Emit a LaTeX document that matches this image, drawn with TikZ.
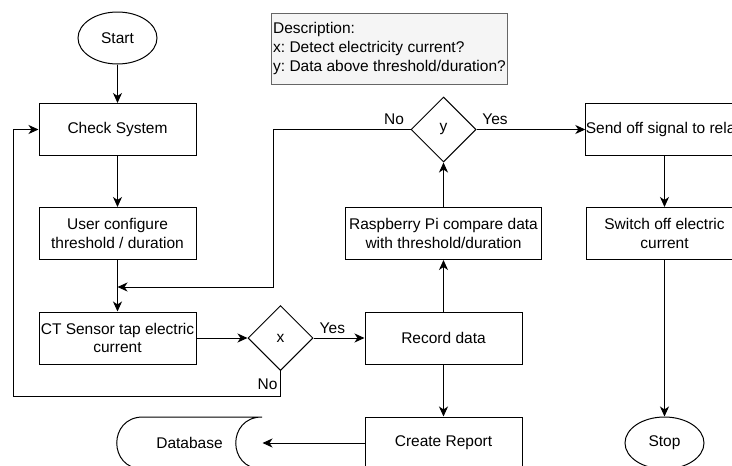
\documentclass[tikz,border=0pt]{standalone}
\usepackage{fontspec}
\setmainfont{Liberation Sans}
\usetikzlibrary{shapes.geometric,arrows.meta}
\definecolor{descfill}{HTML}{F5F5F5}
\definecolor{descline}{HTML}{666666}
\frenchspacing
\begin{document}
\begin{tikzpicture}[x=1pt,y=-1pt,line width=1pt,
        font=\fontsize{15.5}{18.6}\selectfont,
        box/.style={draw,rectangle,minimum width=157pt,minimum height=52pt,align=center,inner xsep=0pt},
        term/.style={draw,ellipse,minimum width=79pt,minimum height=52pt,inner sep=0pt},
        decision/.style={draw,diamond,aspect=1,minimum size=65pt,inner sep=0pt},
        arr/.style={-{Stealth[length=10pt,width=9pt,inset=3pt]}}]
        \clip (0,0) rectangle (732,466);

        \node [draw=descline,fill=descfill,minimum width=233pt,minimum height=71pt,
            inner xsep=2pt,align=left] (desc) at (389.5,48.5)
            {Description:\\x: Detect electricity current?\\y: Data above threshold/duration?};

        \node [term] (start) at (117.5,38) {Start};
        \node [box] (check) at (117.5,129.5) {Check System};
        \node [box] (user) at (117.5,233.5) {User configure\\threshold / duration};
        \node [box] (ct) at (117.5,338) {CT Sensor tap electric\\current};
        \node [decision] (x) at (280.5,338) {x};
        \node [box] (rec) at (443.5,338) {Record data};
        \node [box,minimum width=196pt] (rpi) at (443.5,233.5) {Raspberry Pi compare data\\with threshold/duration};
        \node [decision] (y) at (443.5,129.5) {y};
        \node [box] (send) at (664.5,129.5) {Send off signal to relay};
        \node [box] (off) at (664.5,233.5) {Switch off electric\\current};
        \node [term] (stop) at (664.5,443) {Stop};
        \node [box] (rep) at (443.5,443) {Create Report};
        \node [minimum width=145pt,minimum height=52pt,inner sep=0pt] (db) at (189.5,443) {Database};
        \draw (262,417) -- (143,417) .. controls (108,417) and (108,469) .. (143,469)
            -- (262,469) .. controls (227,469) and (227,417) .. (262,417) -- cycle;

        \coordinate (loop) at (13,396.5);
        \coordinate (back) at (273.5,287);
        \coordinate (merge) at (117.5,287);

        \draw [arr] (start) -- (check);
        \draw [arr] (check) -- (user);
        \draw [arr] (user) -- (ct);
        \draw [arr] (ct) -- (x);
        \draw [arr] (x) -- node [pos=0.37,above=1pt] (xyes) {Yes} (rec);
        \draw [arr] (x.south) |- (loop) |- (check.west);
        \node (xno) at (267.5,384.5) {No};
        \draw [arr] (rec) -- (rpi);
        \draw [arr] (rpi) -- (y);
        \draw [arr] (y.west) -| (back) -- (merge);
        \node (yno) at (394,119.5) {No};
        \draw [arr] (y) -- (send);
        \node (yyes) at (495,119.5) {Yes};
        \draw [arr] (send) -- (off);
        \draw [arr] (off) -- (stop);
        \draw [arr] (rec) -- (rep);
        \draw [arr] (rep) -- (db);
    \end{tikzpicture}
\end{document}
